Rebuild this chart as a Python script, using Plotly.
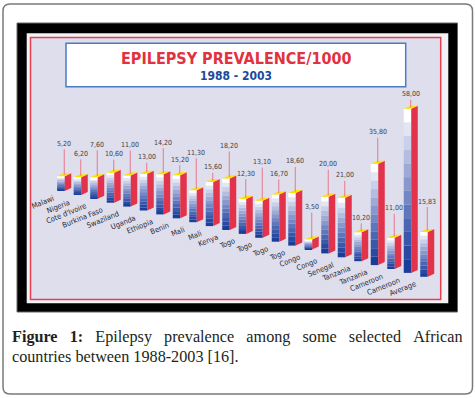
import plotly.graph_objects as go

# ---------------- data ----------------
categories = ["Malawi", "Nigeria", "Cote d'Ivoire", "Burkina Faso", "Swaziland", "Uganda",
              "Ethiopia", "Benin", "Mali", "Mali", "Kenya", "Togo", "Togo", "Togo", "Togo",
              "Congo", "Congo", "Senegal", "Tanzania", "Tanzania", "Cameroon", "Cameroon",
              "Average"]
prevalence = [5.20, 6.20, 7.60, 10.60, 11.00, 13.00, 14.20, 15.20, 11.30, 15.60, 18.20,
              12.30, 13.10, 16.70, 18.60, 3.50, 20.00, 21.00, 10.20, 35.80, 11.00, 58.00,
              15.83]
title_text = "EPILEPSY PREVALENCE/1000"
subtitle_text = "1988 - 2003"

# ---------------- style / layout constants ----------------
leader_px = [31, 22, 31, 17, 29, 15, 30, 14, 36, 13, 31, 24, 37, 19, 30, 31, 31, 21, 13, 30, 28, 13, 29]
band_colors = ["#1b3d9a", "#2a4aa2", "#3a58aa", "#4c67b2", "#5f77ba", "#7387c4",
               "#8898cc", "#9daad6", "#b3bde0", "#c9d0ea", "#e2e6f3", "#ffffff"]
SIDE = "#e3334b"
TOP = "#ffe100"
COND = "DejaVu Sans Condensed, Roboto, sans-serif"
W, H = 475, 398
L, R, T, B = 31, 35, 38, 99
PW, PH = W - L - R, H - T - B
PX_X, PX_Y = 16.5, 2.83          # pixels per category / per unit
X0_PX, Y0_PX = 61, 191           # pixel of first bar centre / its baseline
SLOPE = 3.9 / PX_Y               # baseline drop per category (perspective)
BW = 7.5 / PX_X                  # front face width
DX, DY = 6.5 / PX_X, 3.0 / PX_Y  # depth offset

xr = [-(X0_PX - L) / PX_X, -(X0_PX - L) / PX_X + PW / PX_X]
yr = [(Y0_PX - (T + PH)) / PX_Y, (Y0_PX - T) / PX_Y]


def fx(p):
    return (p - L) / PW


def fy(p):
    return (T + PH - p) / PH


n = len(prevalence)
idx = list(range(n))
bases = [-SLOPE * i for i in idx]
N = len(band_colors)

fig = go.Figure()

# front faces: stacked bands give the stepped white-to-blue gradient
for k, col in enumerate(band_colors):
    fig.add_trace(go.Bar(
        x=idx, y=[v / N for v in prevalence],
        base=[b + k * v / N for b, v in zip(bases, prevalence)],
        width=BW, marker=dict(color=col, line=dict(width=0)),
        hoverinfo="skip", showlegend=False))

# side (red) and top (yellow) faces
sx, sy, tx, ty = [], [], [], []
for i, b, v in zip(idx, bases, prevalence):
    r = i + BW / 2
    l = i - BW / 2
    sx += [r, r, r + DX, r + DX, r, None]
    sy += [b, b + v, b + v + DY, b + DY, b, None]
    tx += [l, r, r + DX, l + DX, l, None]
    ty += [b + v, b + v, b + v + DY, b + v + DY, b + v, None]
fig.add_trace(go.Scatter(x=sx, y=sy, mode="lines", fill="toself", fillcolor=SIDE,
                         line=dict(width=0, color=SIDE), hoverinfo="skip", showlegend=False))
fig.add_trace(go.Scatter(x=tx, y=ty, mode="lines", fill="toself", fillcolor=TOP,
                         line=dict(width=0, color=TOP), hoverinfo="skip", showlegend=False))

ann = []
# value labels with leader lines
for i, b, v in zip(idx, bases, prevalence):
    ann.append(dict(x=i + DX / 2, y=b + v + DY / 2, xref="x", yref="y",
                    text=f"{v:.2f}".replace(".", ","), showarrow=True, arrowhead=0,
                    arrowwidth=1, arrowcolor="#e8788a", ax=0, ay=-leader_px[i],
                    font=dict(family=COND, size=7, color="#3c3c46")))
# category labels
for i, b, c in zip(idx, bases, categories):
    ann.append(dict(x=i - BW / 2, y=b, xref="x", yref="y", text=c, showarrow=False,
                    xanchor="right", yanchor="top", textangle=-22,
                    font=dict(family=COND, size=7.5, color="#2a2a3a")))
# titles
ann.append(dict(x=fx(236), y=fy(58), xref="paper", yref="paper", text=f"<b>{title_text}</b>",
                showarrow=False, xanchor="center", yanchor="middle",
                font=dict(family=COND, size=16, color="#e1323f")))
ann.append(dict(x=fx(236), y=fy(75.5), xref="paper", yref="paper", text=f"<b>{subtitle_text}</b>",
                showarrow=False, xanchor="center", yanchor="middle",
                font=dict(family=COND, size=12, color="#1c4a9a")))
# caption (justified first line)
sp = "\u00a0\u00a0\u00a0"
line1 = f"<b>Figure{sp}1:</b>{sp}Epilepsy{sp}prevalence{sp}among{sp}some{sp}selected{sp}African"
line2 = "countries between 1988-2003 [16]."
for t, yy in [(line1, 337), (line2, 357)]:
    ann.append(dict(x=fx(10), y=fy(yy), xref="paper", yref="paper", text=t, showarrow=False,
                    xanchor="left", yanchor="middle",
                    font=dict(family="Liberation Serif, serif", size=16.2, color="#231f20")))

# frames
x0, y0, x1, y1, rr = 3, 4, 472.5, 394, 7
path = (f"M {fx(x0 + rr)},{fy(y0)} L {fx(x1 - rr)},{fy(y0)} Q {fx(x1)},{fy(y0)} {fx(x1)},{fy(y0 + rr)} "
        f"L {fx(x1)},{fy(y1 - rr)} Q {fx(x1)},{fy(y1)} {fx(x1 - rr)},{fy(y1)} "
        f"L {fx(x0 + rr)},{fy(y1)} Q {fx(x0)},{fy(y1)} {fx(x0)},{fy(y1 - rr)} "
        f"L {fx(x0)},{fy(y0 + rr)} Q {fx(x0)},{fy(y0)} {fx(x0 + rr)},{fy(y0)} Z")
shapes = [
    dict(type="path", path=path, xref="paper", yref="paper", line=dict(color="#7a7a7a", width=1.5),
         fillcolor="white", layer="below"),
    dict(type="rect", xref="paper", yref="paper", x0=fx(17), x1=fx(457.5), y0=fy(312), y1=fy(23),
         fillcolor="#000000", line=dict(color="#666666", width=1), layer="below"),
    dict(type="rect", xref="paper", yref="paper", x0=fx(26.7), x1=fx(448.3), y0=fy(303.3), y1=fy(33.3),
         fillcolor="#f1f1f6", line=dict(width=0), layer="below"),
    dict(type="rect", xref="paper", yref="paper", x0=fx(30.5), x1=fx(440.7), y0=fy(299.5), y1=fy(37.5),
         fillcolor="#dfdeec", line=dict(color="#e5404e", width=1.5), layer="below"),
    dict(type="rect", xref="paper", yref="paper", x0=fx(66), x1=fx(405.7), y0=fy(86.7), y1=fy(43.3),
         fillcolor="#ffffff", line=dict(color="#4a7cc4", width=1.5), layer="below"),
]

fig.update_layout(
    width=W, height=H, margin=dict(l=L, r=R, t=T, b=B),
    paper_bgcolor="white", plot_bgcolor="rgba(0,0,0,0)",
    barmode="overlay", showlegend=False,
    xaxis=dict(range=xr, visible=False, fixedrange=True),
    yaxis=dict(range=yr, visible=False, fixedrange=True),
    annotations=ann, shapes=shapes,
)
fig.write_html("out.html", config={"displayModeBar": False},
               post_script="document.body.style.margin='0';")
